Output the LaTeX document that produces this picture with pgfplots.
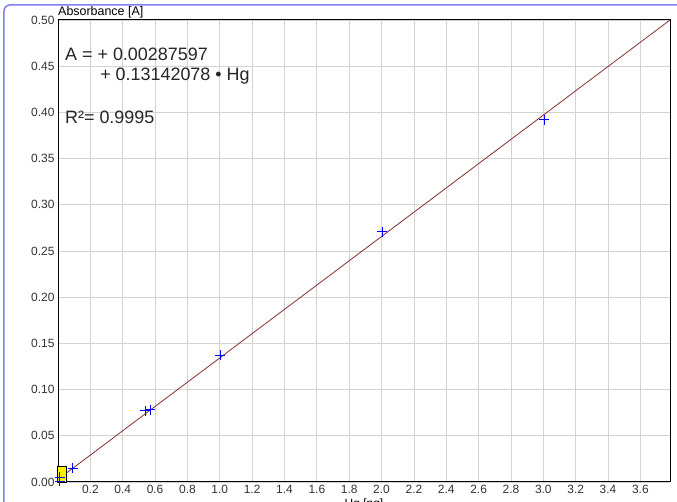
\documentclass[border=0pt]{standalone}
\usepackage{pgfplots}
\pgfplotsset{compat=1.18}
\usepackage{fontspec}
\setmainfont{Liberation Sans}
\definecolor{gridgray}{HTML}{D3D3D3}
\definecolor{fitred}{HTML}{8B2E2E}
\definecolor{framebl}{HTML}{8080F0}
\definecolor{ticktxt}{HTML}{333333}
\definecolor{markblue}{HTML}{0000FF}
\begin{document}
\begin{tikzpicture}
\clip (-58bp,-20bp) rectangle (619bp,482bp);
\fill[white] (-58bp,-20bp) rectangle (619bp,482bp);
\draw[framebl, line width=1.5bp, rounded corners=6bp] (-54bp,-30bp) |- (640bp,477bp);
\begin{axis}[
    at={(0,0)}, anchor=south west,
    scale only axis,
    width=612bp, height=462bp,
    xmin=0, xmax=3.783,
    ymin=0, ymax=0.5,
    xtick={0.2,0.4,...,3.61},
    ytick={0,0.05,...,0.51},
    xticklabel style={/pgf/number format/fixed, /pgf/number format/fixed zerofill, /pgf/number format/precision=1},
    yticklabel style={/pgf/number format/fixed, /pgf/number format/fixed zerofill, /pgf/number format/precision=2},
    /pgf/number format/assume math mode=true,
    tick label style={font=\fontsize{12}{14}\selectfont, text=ticktxt},
    major tick length=0pt,
    grid=major,
    grid style={gridgray, line width=0.8bp},
    axis line style={black, line width=1bp},
    xlabel={Hg [ng]},
    xlabel style={font=\fontsize{12}{14}\selectfont, at={(axis description cs:0.5,0)}, anchor=north, yshift=-13bp},
    ylabel={Absorbance [A]},
    ylabel style={font=\fontsize{12.5}{14}\selectfont, rotate=-90, at={(axis description cs:0,1)}, anchor=south west, inner sep=0pt, yshift=1.5bp},
    clip=false,
]
\addplot[fitred, line width=0.8bp] coordinates {(0,0.002876) (3.783,0.5)};
\addplot[only marks, mark=square*, mark size=8bp, mark options={xscale=0.55, fill=yellow, draw=black, line width=0.6bp}] coordinates {(0.025,0.0087)};
\addplot[only marks, draw=markblue, mark=+, mark size=5bp, mark options={solid, draw=markblue, fill=markblue, line width=0.9bp}] coordinates {
    (0.012,0.001) (0.012,0.005) (0.09,0.015) (0.54,0.077) (0.57,0.078) (1.004,0.137) (2.004,0.271) (3.004,0.392)
};
\node[anchor=base west, inner sep=0pt, font=\fontsize{18}{20}\selectfont, text=black!85] at (axis cs:0.043,0.4566) {A = + 0.00287597};
\node[anchor=base west, inner sep=0pt, font=\fontsize{18}{20}\selectfont, text=black!85] at (axis cs:0.26,0.4349) {+ 0.13142078 • Hg};
\node[anchor=base west, inner sep=0pt, font=\fontsize{18}{20}\selectfont, text=black!85] at (axis cs:0.043,0.388) {R²= 0.9995};
\end{axis}
\end{tikzpicture}
\end{document}
